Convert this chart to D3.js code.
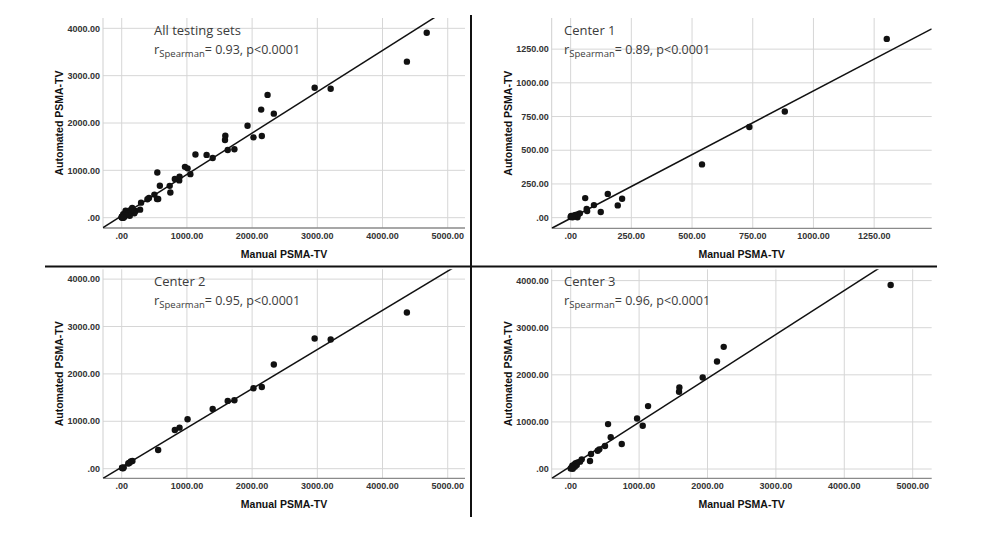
<!DOCTYPE html>
<html>
<head>
<meta charset="utf-8">
<script src="https://cdn.jsdelivr.net/npm/d3@7"></script>
<style>
  html, body { margin: 0; padding: 0; background: #fff; }
  svg { display: block; }
</style>
</head>
<body>
<svg id="chart" width="984" height="534"></svg>
<script>
// ---------------- DATA ----------------
const center1X = [1302, 882, 736, 541, 153, 60, 212, 194, 96, 66, 68, 124, 38, 31, 20, 11, 2, 0, 25, 28, 15, 8];
const center1Y = [1326, 787, 672, 395, 176, 145, 140, 91, 93, 64, 49, 42, 32, 25, 20, 15, 12, 5, 8, 3, 10, 3];

const center2X = [4374, 2959, 3205, 2333, 2021, 2149, 1626, 1728, 1395, 1010, 887, 815, 559, 164, 140, 115, 100, 30, 10, 20, 5];
const center2Y = [3296, 2746, 2725, 2197, 1697, 1725, 1430, 1444, 1261, 1042, 866, 817, 394, 162, 150, 120, 108, 25, 15, 10, 20];

const center3X = [4678, 2237, 2139, 1930, 1589, 1584, 1131, 970, 1053, 546, 585, 746, 501, 418, 394, 297, 282, 161, 136, 102, 73, 53, 88, 23, 38, 10, 0, 60, 30];
const center3Y = [3908, 2594, 2283, 1943, 1731, 1640, 1336, 1074, 919, 954, 673, 531, 488, 418, 389, 318, 170, 205, 156, 142, 121, 99, 85, 71, 49, 28, 10, 50, 5];

const panelTitles = ["All testing sets", "Center 1", "Center 2", "Center 3"];
const spearmanR = ["0.93", "0.89", "0.95", "0.96"];
const pValueText = "p<0.0001";

const fitIntercept = [40, -5, 34, 62];
const fitSlope = [0.873, 0.945, 0.827, 0.932];

const ticksLarge = [0, 1000, 2000, 3000, 4000, 5000];
const ticksLargeY = [0, 1000, 2000, 3000, 4000];
const ticksSmall = [0, 250, 500, 750, 1000, 1250];

const xAxisTitle = "Manual PSMA-TV";
const yAxisTitle = "Automated PSMA-TV";

// ---------------- LAYOUT ----------------
const allX = center1X.concat(center2X, center3X);
const allY = center1Y.concat(center2Y, center3Y);

const panels = [
  { xs: allX, ys: allY, frame: [103, 465, 18, 228], xd: [-287, 5265], yd: [-218, 4218], xt: ticksLarge, yt: ticksLargeY, tx: 154 },
  { xs: center1X, ys: center1Y, frame: [551.7, 931.7, 18, 228.3], xd: [-78, 1487], yd: [-79, 1481], xt: ticksSmall, yt: ticksSmall, tx: 564 },
  { xs: center2X, ys: center2Y, frame: [103, 465, 269.3, 478.3], xd: [-287, 5265], yd: [-203, 4207], xt: ticksLarge, yt: ticksLargeY, tx: 154 },
  { xs: center3X, ys: center3Y, frame: [551.7, 931.7, 269.3, 478.3], xd: [-278, 5278], yd: [-197, 4240], xt: ticksLarge, yt: ticksLargeY, tx: 564 }
];

const svg = d3.select("#chart");
const fmt = v => { const s = d3.format(".2f")(v); return s.startsWith("0.") ? s.slice(1) : s; };

panels.forEach((p, i) => {
  const [L, R, T, B] = p.frame;
  const x = d3.scaleLinear().domain(p.xd).range([L, R]);
  const y = d3.scaleLinear().domain(p.yd).range([B, T]);
  const g = svg.append("g");

  const clipId = "clip" + i;
  svg.append("clipPath").attr("id", clipId)
    .append("rect").attr("x", L).attr("y", T).attr("width", R - L).attr("height", B - T);

  // gridlines
  g.selectAll("line.vg").data(p.xt).enter().append("line")
    .attr("x1", d => x(d)).attr("x2", d => x(d)).attr("y1", T).attr("y2", B)
    .attr("stroke", "#d6d6d6").attr("stroke-width", 1);
  g.selectAll("line.hg").data(p.yt).enter().append("line")
    .attr("x1", L).attr("x2", R).attr("y1", d => y(d)).attr("y2", d => y(d))
    .attr("stroke", "#d6d6d6").attr("stroke-width", 1);
  // left frame line
  g.append("line").attr("x1", L).attr("x2", L).attr("y1", T).attr("y2", B)
    .attr("stroke", "#cfcfcf").attr("stroke-width", 1);
  // bottom axis line
  g.append("line").attr("x1", L).attr("x2", R).attr("y1", B).attr("y2", B)
    .attr("stroke", "#8a8a8a").attr("stroke-width", 1.3);

  // tick labels
  g.selectAll("text.xt").data(p.xt).enter().append("text")
    .attr("x", d => x(d)).attr("y", B + 11)
    .attr("text-anchor", "middle")
    .attr("font-family", "Liberation Sans, Arial, sans-serif")
    .attr("font-weight", "bold").attr("font-size", 9).attr("fill", "#333")
    .text(fmt);
  g.selectAll("text.yt").data(p.yt).enter().append("text")
    .attr("x", L - 3).attr("y", d => y(d) + 3.2)
    .attr("text-anchor", "end")
    .attr("font-family", "Liberation Sans, Arial, sans-serif")
    .attr("font-weight", "bold").attr("font-size", 9).attr("fill", "#333")
    .text(fmt);

  // axis titles
  g.append("text").attr("x", (L + R) / 2).attr("y", B + 29.5)
    .attr("text-anchor", "middle")
    .attr("font-family", "Liberation Sans, Arial, sans-serif")
    .attr("font-weight", "bold").attr("font-size", 10.5).attr("fill", "#111")
    .text(xAxisTitle);
  const ycx = L - 44, ycy = (T + B) / 2;
  g.append("text").attr("transform", `translate(${ycx + 3.8},${ycy}) rotate(-90)`)
    .attr("text-anchor", "middle")
    .attr("font-family", "Liberation Sans, Arial, sans-serif")
    .attr("font-weight", "bold").attr("font-size", 10.5).attr("fill", "#111")
    .text(yAxisTitle);

  // fit line
  g.append("line")
    .attr("clip-path", `url(#${clipId})`)
    .attr("x1", x(p.xd[0])).attr("y1", y(fitIntercept[i] + fitSlope[i] * p.xd[0]))
    .attr("x2", x(p.xd[1])).attr("y2", y(fitIntercept[i] + fitSlope[i] * p.xd[1]))
    .attr("stroke", "#111").attr("stroke-width", 1.5);

  // points
  g.selectAll("circle").data(p.xs.map((v, k) => [v, p.ys[k]])).enter().append("circle")
    .attr("cx", d => x(d[0])).attr("cy", d => y(d[1])).attr("r", 3.2)
    .attr("fill", "#111");

  // annotations
  g.append("text").attr("x", p.tx).attr("y", T + 16.5)
    .attr("font-family", "Open Sans, sans-serif").attr("font-size", 13).attr("fill", "#3c3c3c")
    .text(panelTitles[i]);
  const t2 = g.append("text").attr("x", p.tx).attr("y", T + 35.5)
    .attr("font-family", "Open Sans, sans-serif").attr("font-size", 12.5).attr("fill", "#3c3c3c");
  t2.append("tspan").attr("font-size", 13).text("r");
  t2.append("tspan").attr("font-size", 9.5).attr("dy", 3.5).text("Spearman");
  t2.append("tspan").attr("dy", -3.5).text("= " + spearmanR[i] + ", " + pValueText);
});

// separators
svg.append("line").attr("x1", 45).attr("x2", 937).attr("y1", 266.5).attr("y2", 266.5)
  .attr("stroke", "#111").attr("stroke-width", 2);
svg.append("line").attr("x1", 471).attr("x2", 471).attr("y1", 15).attr("y2", 517)
  .attr("stroke", "#111").attr("stroke-width", 2);
</script>
</body>
</html>
